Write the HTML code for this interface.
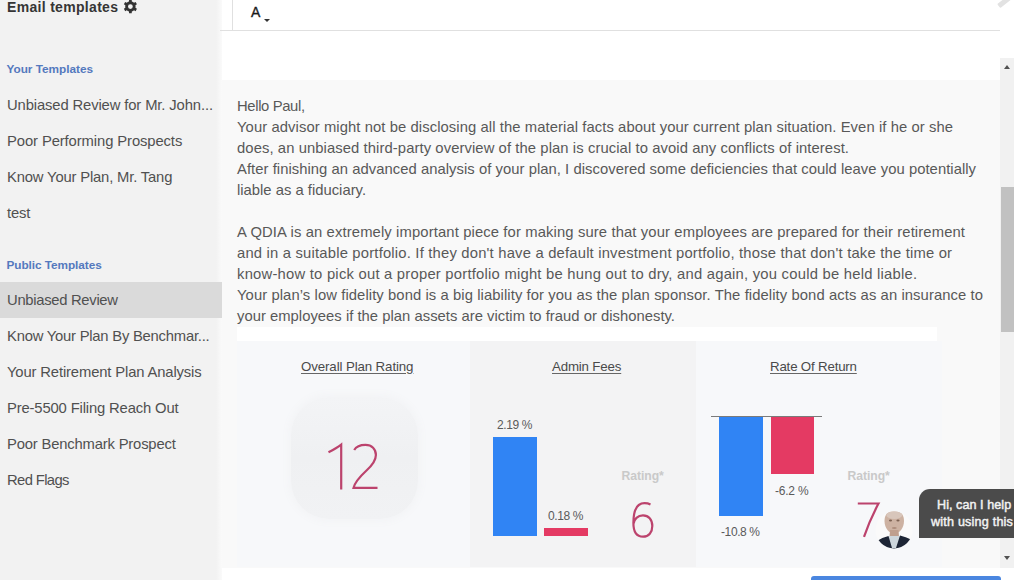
<!DOCTYPE html>
<html><head><meta charset="utf-8">
<style>
*{margin:0;padding:0;box-sizing:border-box}
html,body{width:1014px;height:580px;overflow:hidden;background:#fff;font-family:"Liberation Sans",sans-serif;position:relative}
.abs{position:absolute}
.t{position:absolute;white-space:nowrap;line-height:1}
.item{position:absolute;left:7px;font-size:14.8px;color:#505050;white-space:nowrap;line-height:1}
.sec{position:absolute;left:6.5px;font-size:11.8px;font-weight:bold;color:#5479be;white-space:nowrap;line-height:1}
.bl{position:absolute;left:237px;font-size:14.8px;line-height:1;color:#585858;white-space:nowrap}
.ttl{position:absolute;font-size:13.3px;color:#4a4a4a;text-decoration:underline;text-underline-offset:2px;text-decoration-color:#666;white-space:nowrap;line-height:1}
.lbl{position:absolute;font-size:12px;letter-spacing:-0.25px;color:#5a5a5a;white-space:nowrap;line-height:1}
.rt{position:absolute;font-size:12.2px;font-weight:bold;color:#c9c9c9;letter-spacing:-0.05px;white-space:nowrap;line-height:1}
</style></head><body>
<div class="abs" style="left:0;top:0;width:222px;height:580px;background:linear-gradient(to right,#f2f2f2 216px,#f6f6f6 219px,#fafafa 222px)"></div>

<div class="t" id="e_hdr" style="left:7px;top:-0.5px;font-size:14px;font-weight:bold;color:#353535;letter-spacing:0.314px;">Email templates</div>
<svg class="abs" style="left:0;top:0" width="150" height="20" viewBox="0 0 150 20"><path fill="#333" fill-rule="evenodd" d="M127.80 2.10 L128.97 1.60 L129.08 -0.17 L131.72 -0.17 L131.83 1.60 L133.00 2.10 L134.01 2.86 L135.61 2.07 L136.92 4.35 L135.45 5.34 L135.60 6.60 L135.45 7.86 L136.92 8.85 L135.61 11.13 L134.01 10.34 L133.00 11.10 L131.83 11.60 L131.72 13.37 L129.08 13.37 L128.97 11.60 L127.80 11.10 L126.79 10.34 L125.19 11.13 L123.88 8.85 L125.35 7.86 L125.20 6.60 L125.35 5.34 L123.88 4.35 L125.19 2.07 L126.79 2.86Z M128.00 6.60 a2.4 2.4 0 1 0 4.80 0 a2.4 2.4 0 1 0 -4.80 0Z"/></svg>
<div class="sec" id="e_yt" style="top:64.3px;letter-spacing:-0.019px;">Your Templates</div>
<div class="sec" id="e_pt" style="top:259.5px;letter-spacing:-0.064px;">Public Templates</div>
<div class="abs" style="left:0;top:282px;width:222px;height:36px;background:#dadada"></div>
<div class="item" id="e_s0" style="top:98.1px;letter-spacing:-0.124px;">Unbiased Review for Mr. John...</div>
<div class="item" id="e_s1" style="top:134.1px;letter-spacing:-0.098px;">Poor Performing Prospects</div>
<div class="item" id="e_s2" style="top:170.1px;letter-spacing:-0.165px;">Know Your Plan, Mr. Tang</div>
<div class="item" id="e_s3" style="top:206.1px;letter-spacing:-0.186px;">test</div>
<div class="item" id="e_s4" style="top:293.1px;letter-spacing:-0.297px;">Unbiased Review</div>
<div class="item" id="e_s5" style="top:329.1px;letter-spacing:-0.223px;">Know Your Plan By Benchmar...</div>
<div class="item" id="e_s6" style="top:365.1px;letter-spacing:-0.139px;">Your Retirement Plan Analysis</div>
<div class="item" id="e_s7" style="top:401.1px;letter-spacing:-0.149px;">Pre-5500 Filing Reach Out</div>
<div class="item" id="e_s8" style="top:437.1px;letter-spacing:-0.178px;">Poor Benchmark Prospect</div>
<div class="item" id="e_s9" style="top:473.1px;letter-spacing:-0.632px;">Red Flags</div>

<div class="abs" style="left:232px;top:0;width:1px;height:30px;background:#e0e0e0"></div>
<div class="abs" style="left:220px;top:30px;width:780px;height:1px;background:#e0e0e0"></div>
<div class="t" style="left:251px;top:5px;font-size:14px;color:#1a1a1a;-webkit-text-stroke:0.35px #1a1a1a">A</div>
<div class="abs" style="left:264px;top:19px;width:0;height:0;border-left:3px solid transparent;border-right:3px solid transparent;border-top:3px solid #333"></div>
<div class="abs" style="left:222px;top:80px;width:778px;height:488px;background:#f9f9f9"></div>

<div class="bl" id="e_b0" style="top:99.0px;letter-spacing:-0.356px;">Hello Paul,</div>
<div class="bl" id="e_b1" style="top:120.0px;letter-spacing:0.083px;">Your advisor might not be disclosing all the material facts about your current plan situation. Even if he or she</div>
<div class="bl" id="e_b2" style="top:141.0px;letter-spacing:0.086px;">does, an unbiased third-party overview of the plan is crucial to avoid any conflicts of interest.</div>
<div class="bl" id="e_b3" style="top:162.0px;letter-spacing:0.047px;">After finishing an advanced analysis of your plan, I discovered some deficiencies that could leave you potentially</div>
<div class="bl" id="e_b4" style="top:183.0px;letter-spacing:0.007px;">liable as a fiduciary.</div>
<div class="bl" id="e_b6" style="top:225.0px;letter-spacing:0.124px;">A QDIA is an extremely important piece for making sure that your employees are prepared for their retirement</div>
<div class="bl" id="e_b7" style="top:246.0px;letter-spacing:0.194px;">and in a suitable portfolio. If they don't have a default investment portfolio, those that don't take the time or</div>
<div class="bl" id="e_b8" style="top:267.0px;letter-spacing:0.228px;">know-how to pick out a proper portfolio might be hung out to dry, and again, you could be held liable.</div>
<div class="bl" id="e_b9" style="top:288.0px;letter-spacing:0.085px;">Your plan’s low fidelity bond is a big liability for you as the plan sponsor. The fidelity bond acts as an insurance to</div>
<div class="bl" id="e_b10" style="top:309.0px;letter-spacing:0.023px;">your employees if the plan assets are victim to fraud or dishonesty.</div>

<div class="abs" style="left:237px;top:327px;width:700px;height:14px;background:#fff"></div>
<div class="abs" style="left:237px;top:341px;width:705px;height:226px;background:#f7f8fa"></div>
<div class="abs" style="left:470px;top:341px;width:226px;height:226px;background:#f3f3f4"></div>

<div class="ttl" id="e_t0" style="letter-spacing:-0.115px;left:301px;top:359.5px">Overall Plan Rating</div>
<div class="abs" style="left:291px;top:397px;width:127px;height:122px;border-radius:38px;background:linear-gradient(#f3f4f6,#eff0f2 50%,#f1f2f4);box-shadow:0 0 8px 2px #f2f3f5"></div>
<svg class="abs" style="left:0;top:0" width="1014" height="580" viewBox="0 0 1014 580" fill="none" stroke="#bc436d" stroke-width="2.2" stroke-linecap="butt" stroke-linejoin="miter">
  <path d="M328.5 452.3 C333 450 337.5 447.5 341.2 444.6 L341.2 489.5"/>
  <path d="M354.2 450 C356.2 446.5 360.2 444.9 365.5 444.9 C371.8 444.9 375.9 449 375.9 455 C375.9 461 372 465.5 366.5 470.5 C360 476.5 355 482 353.5 487.9 L377.5 487.9"/>
  <path d="M650.5 504.5 C648.5 503.5 646.5 503.2 644.5 503.2 C637 503.2 633.4 511 633.4 523 C633.4 532 637 536.7 643 536.7 C648.8 536.7 652.3 532.3 652.3 526 C652.3 519.5 648.5 515.3 643 515.3 C637.5 515.3 634.2 519.5 633.6 523.5"/>
  <path d="M857.8 503.5 L878.5 503.5 C873 514 868 525 864 536.8"/>
</svg>

<div class="ttl" id="e_t1" style="letter-spacing:-0.173px;left:552px;top:359.5px">Admin Fees</div>
<div class="abs" style="left:493px;top:437px;width:44px;height:99px;background:#3084f4"></div>
<div class="lbl" id="e_l0" style="letter-spacing:-0.392px;left:497px;top:419px">2.19 %</div>
<div class="abs" style="left:544px;top:528px;width:44px;height:8px;background:#e43a63"></div>
<div class="lbl" id="e_l1" style="letter-spacing:-0.392px;left:548px;top:510px">0.18 %</div>
<div class="rt" style="left:621.5px;top:469.5px">Rating*</div>

<div class="ttl" id="e_t2" style="letter-spacing:-0.188px;left:770px;top:359.5px">Rate Of Return</div>
<div class="abs" style="left:711px;top:415.5px;width:111px;height:1.6px;background:#7a7a7a"></div>
<div class="abs" style="left:719px;top:417px;width:44px;height:99px;background:#3084f4"></div>
<div class="abs" style="left:771px;top:417px;width:43px;height:57px;background:#e43a63"></div>
<div class="lbl" id="e_l2" style="letter-spacing:-0.217px;left:775px;top:485px">-6.2 %</div>
<div class="lbl" id="e_l3" style="letter-spacing:-0.393px;left:721px;top:526px">-10.8 %</div>
<div class="rt" style="left:847.5px;top:469.5px">Rating*</div>

<div class="abs" style="left:1000px;top:58px;width:14px;height:510px;background:#f1f1f1"></div>
<div class="abs" style="left:1001px;top:187px;width:13px;height:145px;background:#c1c1c1"></div>
<div class="abs" style="left:1004px;top:64.5px;width:0;height:0;border-left:3.5px solid transparent;border-right:3.5px solid transparent;border-bottom:4.5px solid #505050"></div>
<div class="abs" style="left:1004px;top:556px;width:0;height:0;border-left:3.5px solid transparent;border-right:3.5px solid transparent;border-top:4.5px solid #505050"></div>

<div class="abs" style="left:997px;top:-1px;width:15px;height:4.5px;background:#e2e2e2;border-radius:1px;transform:rotate(-38deg)"></div>

<div class="abs" style="left:811px;top:576px;width:190px;height:20px;border-radius:3px;background:#4a86e0"></div>

<svg class="abs" style="left:874px;top:508px" width="40" height="42" viewBox="874 508 40 42">
  <defs><clipPath id="cp"><circle cx="894" cy="530" r="18.5"/></clipPath></defs>
  <g clip-path="url(#cp)">
    <rect x="874" y="508" width="40" height="42" fill="#fafafa"/>
    <path d="M884.5 521 C884.5 514 888.5 510.8 894.3 510.8 C900 510.8 904 514 904 521 C904 528 899.5 533.5 894.3 533.5 C889 533.5 884.5 528 884.5 521z" fill="#cdb2a2"/>
    <ellipse cx="894.3" cy="515" rx="8" ry="4" fill="#d8c6bb"/>
    <ellipse cx="890.5" cy="520.5" rx="1.6" ry="0.9" fill="#7d6253"/>
    <ellipse cx="898" cy="520.5" rx="1.6" ry="0.9" fill="#7d6253"/>
    <ellipse cx="894.3" cy="528" rx="2.5" ry="0.8" fill="#a27f6e"/>
    <path d="M890 530 L898.5 530 L899 537 L889.5 537z" fill="#bf9f8e"/>
    <path d="M886 548 L889 536 L899.5 536 L903 548z" fill="#cdd6dc"/>
    <path d="M874 550 L877 541 Q882 537.5 888.5 536 L892 548 L896 548 L900 535.5 Q906 537 911 539.5 L914 550z" fill="#1d2535"/>
  </g>
</svg>

<div class="abs" style="left:919px;top:489px;width:120px;height:49px;background:#4b4b4b;border-radius:11px 11px 0 0"></div>
<div class="t" style="left:937px;top:498.5px;font-size:12.6px;color:#f2f2f2;-webkit-text-stroke:0.45px #f2f2f2;letter-spacing:0.05px">Hi, can I help</div>
<div class="t" style="left:931px;top:516px;font-size:12.6px;color:#f2f2f2;-webkit-text-stroke:0.45px #f2f2f2;letter-spacing:0.2px">with using this</div>
</body></html>
